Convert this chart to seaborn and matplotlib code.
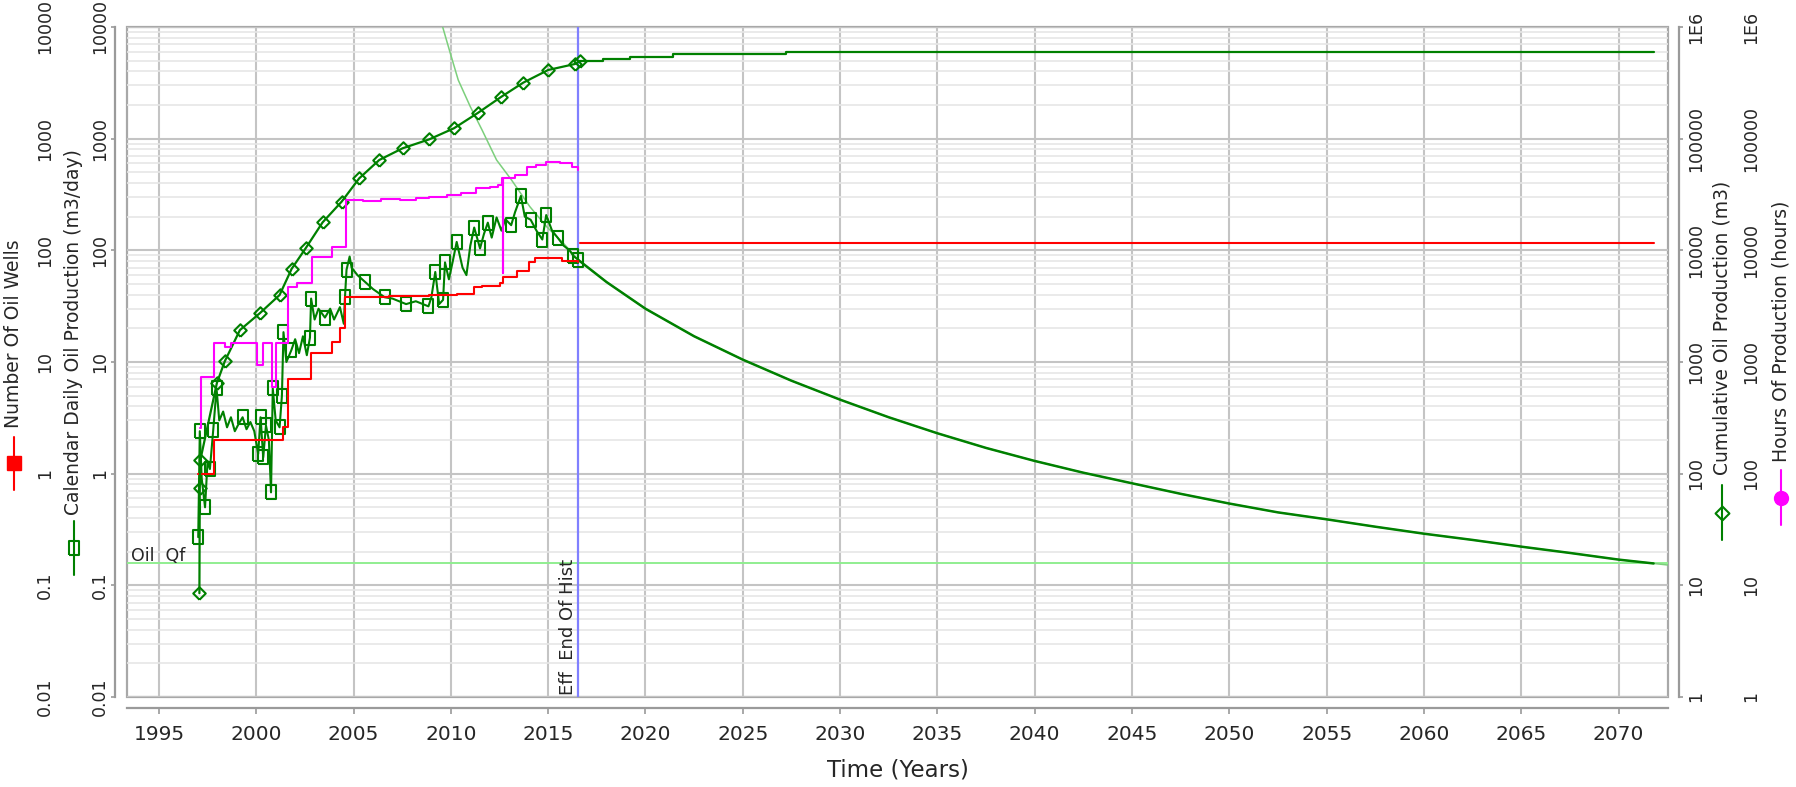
import matplotlib
matplotlib.use('Agg')
import matplotlib.pyplot as plt
from matplotlib.lines import Line2D
from matplotlib.patches import Rectangle
import matplotlib.ticker as mticker
import seaborn as sns

# ---- data ----
# calendar daily oil production, history (m3/day)
oil_year = [1997.02, 1997.10, 1997.20, 1997.37, 1997.50, 1997.62, 1997.79, 1997.96, 1998.10, 1998.30,
            1998.50, 1998.70, 1998.90, 1999.10, 1999.30, 1999.50, 1999.70, 1999.90, 2000.10, 2000.22,
            2000.36, 2000.50, 2000.65, 2000.76, 2000.85, 2001.00, 2001.20, 2001.32, 2001.40, 2001.55,
            2001.80, 2002.00, 2002.20, 2002.40, 2002.60, 2002.76, 2002.82, 2003.00, 2003.20, 2003.53,
            2003.80, 2004.00, 2004.30, 2004.50, 2004.56, 2004.64, 2004.80, 2004.90, 2005.20, 2005.60,
            2006.00, 2006.60, 2007.00, 2007.70, 2008.20, 2008.85, 2009.00, 2009.20, 2009.40, 2009.60,
            2009.70, 2009.90, 2010.10, 2010.30, 2010.60, 2010.80, 2011.00, 2011.20, 2011.50, 2011.70,
            2011.90, 2012.10, 2012.35, 2012.60, 2012.80, 2013.10, 2013.30, 2013.60, 2013.80, 2014.10,
            2014.40, 2014.70, 2014.90, 2015.20, 2015.50, 2015.80, 2016.10, 2016.30, 2016.55]
oil_rate = [0.27, 2.4, 0.9, 0.5, 1.3, 1.1, 2.45, 5.8, 3.0, 3.6,
            2.6, 3.2, 2.4, 2.8, 3.2, 2.5, 2.9, 2.4, 1.5, 3.2,
            1.4, 2.7, 2.0, 0.68, 5.8, 3.0, 2.6, 5.0, 18.5, 10.0,
            12.7, 16, 12, 17, 11.5, 16.5, 37, 24, 30, 25,
            30, 24, 31, 22, 38, 67, 88, 70, 60, 52,
            45, 38, 37, 33, 35, 31.5, 38, 64, 33, 36,
            78, 55, 80, 119, 70, 60, 110, 160, 104, 140,
            177, 130, 197, 150, 190, 168, 220, 307, 200, 188,
            150, 125, 207, 150, 129, 110, 100, 89, 82]
oil_square_year = [1997.02, 1997.10, 1997.37, 1997.62, 1997.79, 1997.96, 1999.30, 2000.10, 2000.22,
                   2000.36, 2000.50, 2000.76, 2000.85, 2001.20, 2001.32, 2001.40, 2001.80, 2002.76,
                   2002.82, 2003.53, 2004.56, 2004.64, 2005.60, 2006.60, 2007.70, 2008.85, 2009.20,
                   2009.60, 2009.70, 2010.30, 2011.20, 2011.50, 2011.90, 2013.10, 2013.60, 2014.10,
                   2014.70, 2014.90, 2015.50, 2016.30, 2016.55]

# fitted decline curve (thin light green) - forecast follows it after end of history
decline_year = [2009.58, 2010.00, 2010.38, 2011.00, 2011.60, 2012.35, 2013.12, 2014.06, 2014.92, 2015.78,
                2016.55, 2018.0, 2020.0, 2022.5, 2025.0, 2027.5, 2030.0, 2032.5, 2035.0, 2037.5,
                2040.0, 2042.5, 2045.0, 2047.5, 2050.0, 2052.5, 2055.0, 2057.5, 2060.0, 2062.5,
                2065.0, 2067.5, 2070.0, 2071.8, 2072.54]
decline_rate = [10000, 5600, 3350, 1934, 1200, 644, 426, 246, 163, 116,
                82, 52, 30, 17, 10.5, 6.8, 4.6, 3.2, 2.3, 1.7,
                1.3, 1.02, 0.82, 0.66, 0.54, 0.45, 0.39, 0.335, 0.29, 0.255,
                0.222, 0.195, 0.17, 0.157, 0.152]
oil_qf = 0.157
end_of_hist = 2016.55
forecast_end = 2071.8

# number of oil wells
wells_year = [1997.00, 1997.85, 2001.35, 2001.62, 2002.80, 2003.90, 2004.30, 2004.55, 2006.80, 2008.90,
              2009.90, 2010.30, 2011.20, 2011.60, 2012.50, 2012.70, 2013.40, 2014.00, 2014.30, 2015.70,
              2016.55]
wells_count = [1, 2, 2.6, 7, 12, 15, 20, 38.5, 39, 39.5,
               40, 41, 47, 48, 51, 58, 65, 79, 85, 80,
               78]
wells_fcst_year = [2016.62, forecast_end]
wells_fcst_count = [115.6, 115.6]

# cumulative oil production (m3)
cum_year = [1997.08, 1997.10, 1997.13, 1997.98, 1998.39, 1999.16, 2000.19, 2001.20, 2001.82, 2002.55,
            2003.41, 2004.39, 2005.29, 2006.32, 2007.52, 2008.89, 2010.16, 2011.41, 2012.60, 2013.72,
            2015.00, 2016.38, 2016.62]
cum_vol = [8.5, 74, 133, 650, 1020, 1930, 2740, 3980, 6830, 10500,
           17800, 27300, 44100, 64400, 82000, 98600, 123900, 171000, 237600, 317400,
           412100, 466500, 496000]
cum_fcst_year = [2016.62, 2017.30, 2017.80, 2019.20, 2021.40, 2027.20, forecast_end]
cum_fcst_vol = [496000, 499000, 513500, 542000, 573000, 593000, 593000]

# hours of production
hours_year = [1997.12, 1997.14, 1997.85, 1998.40, 1998.70, 2000.05, 2000.35, 2000.80, 2001.00, 2001.62,
              2002.10, 2002.85, 2003.90, 2004.62, 2005.50, 2006.40, 2007.40, 2008.20, 2008.90, 2009.80,
              2010.50, 2011.30, 2012.00, 2012.40, 2012.62, 2012.66, 2012.68, 2013.30, 2013.90, 2014.40,
              2014.90, 2015.60, 2016.20, 2016.55]
hours_val = [257, 740, 1480, 1350, 1480, 940, 1480, 600, 1480, 4730,
             5100, 8770, 10800, 28200, 27600, 28600, 28500, 29500, 30200, 31000,
             32400, 35900, 37000, 38600, 44500, 6270, 44500, 47500, 56100, 58000,
             62200, 60000, 56000, 52500]

x_ticks = list(range(1995, 2071, 5))
left_ticks = [0.01, 0.1, 1, 10, 100, 1000, 10000]
left_labels = ['0.01', '0.1', '1', '10', '100', '1000', '10000']
right_ticks = [1, 10, 100, 1000, 10000, 100000, 1000000]
right_labels = ['1', '10', '100', '1000', '10000', '100000', '1E6']

# ---- styling ----
sns.set_style('white')
plt.rcParams['font.family'] = ['DejaVu Sans']

GREEN = '#008000'
LIGHT = '#7ccf7c'
RED = '#ff0000'
MAGENTA = '#ff00ff'
GRAY = '#9a9a9a'

W, H = 1796, 787
fig = plt.figure(figsize=(W / 100, H / 100), dpi=100)


def fx(px):
    return px / W


def fy(py):
    return 1 - py / H


ax = fig.add_axes([fx(127), fy(697), fx(1668) - fx(127), fy(27) - fy(697)])
ax_w = ax.twinx()
ax_c = ax.twinx()
ax_h = ax.twinx()

ax.set_xlim(1993.36, 2072.54)
for a, lims in ((ax, (0.01, 1e4)), (ax_w, (0.01, 1e4)), (ax_c, (1, 1e6)), (ax_h, (1, 1e6))):
    a.set_yscale('log')
    a.set_ylim(*lims)
    for s in a.spines.values():
        s.set_visible(False)

# rect marker shapes
sq_marker = [(-0.35, -0.5), (0.35, -0.5), (0.35, 0.5), (-0.35, 0.5), (-0.35, -0.5)]
dm_marker = [(0, -0.5), (0.5, 0), (0, 0.5), (-0.5, 0), (0, -0.5)]

# grid + frame
ax.set_axisbelow(True)
ax.set_xticks(x_ticks)
ax.yaxis.set_major_locator(mticker.FixedLocator(left_ticks))
ax.yaxis.set_minor_locator(mticker.LogLocator(base=10, subs=range(2, 10), numticks=20))
ax.yaxis.set_minor_formatter(mticker.NullFormatter())
ax.grid(which='major', axis='both', color='#c4c4c4', lw=1.5)
ax.grid(which='minor', axis='y', color='#e6e6e6', lw=1.2)
ax.add_patch(Rectangle((0, 0), 1, 1, transform=ax.transAxes, fill=False, ec='#a8a8a8', lw=1.6,
                       clip_on=False, zorder=0.5))

# oil rate lines
ax.axhline(oil_qf, color='#90ee90', lw=1.4, zorder=1.5)
sns.lineplot(x=decline_year, y=decline_rate, ax=ax, color=LIGHT, lw=1.1, sort=False, estimator=None,
             zorder=2)
fc_year = [y for y in decline_year if end_of_hist <= y <= forecast_end]
fc_rate = [r for y, r in zip(decline_year, decline_rate) if end_of_hist <= y <= forecast_end]
sns.lineplot(x=fc_year, y=fc_rate, ax=ax, color=GREEN, lw=1.8, sort=False, estimator=None, zorder=3)
sq_idx = [i for i, y in enumerate(oil_year) if y in oil_square_year]
sns.lineplot(x=oil_year, y=oil_rate, ax=ax, color=GREEN, lw=1.5, sort=False, estimator=None,
             marker=sq_marker, markevery=sq_idx, markersize=9.5, markerfacecolor='none',
             markeredgecolor=GREEN, markeredgewidth=1.5, zorder=3)
ax.axvline(end_of_hist, color='#8080ff', lw=1.6, zorder=2.5)

# wells
sns.lineplot(x=wells_year, y=wells_count, ax=ax_w, color=RED, lw=1.5, drawstyle='steps-post',
             sort=False, estimator=None)
sns.lineplot(x=wells_fcst_year, y=wells_fcst_count, ax=ax_w, color=RED, lw=1.5, sort=False,
             estimator=None)

# hours
sns.lineplot(x=hours_year, y=hours_val, ax=ax_h, color=MAGENTA, lw=1.5, drawstyle='steps-post',
             sort=False, estimator=None)

# cumulative
sns.lineplot(x=cum_year, y=cum_vol, ax=ax_c, color=GREEN, lw=1.6, sort=False, estimator=None,
             marker=dm_marker, markersize=9, markerfacecolor='none', markeredgecolor=GREEN,
             markeredgewidth=1.5)
sns.lineplot(x=cum_fcst_year, y=cum_fcst_vol, ax=ax_c, color=GREEN, lw=1.6, drawstyle='steps-post',
             sort=False, estimator=None)

for a in (ax, ax_w, ax_c, ax_h):
    a.set_xlabel('')
    a.set_ylabel('')

# x axis below the frame
ax.spines['bottom'].set_visible(True)
ax.spines['bottom'].set_position(('outward', 8))
ax.spines['bottom'].set_color(GRAY)
ax.spines['bottom'].set_linewidth(1.6)
ax.tick_params(axis='x', which='major', length=4, width=1.2, color=GRAY, pad=8, labelsize=14.5,
               bottom=True)

# inner left axis: daily oil
ax.spines['left'].set_visible(True)
ax.spines['left'].set_position(('outward', 8.6))
ax.spines['left'].set_color(GRAY)
ax.spines['left'].set_linewidth(1.6)
ax.set_yticks(left_ticks)
ax.set_yticklabels(left_labels, rotation=90, va='center', ha='right')
ax.tick_params(axis='y', which='major', length=3, width=1.2, color=GRAY, pad=1.6, labelsize=12.5,
               left=True)
ax.tick_params(axis='y', which='minor', length=0)

# outer left axis: wells
ax_w.yaxis.tick_left()
ax_w.spines['left'].set_position(('outward', 49.7))
ax_w.yaxis.set_major_locator(mticker.FixedLocator(left_ticks))
ax_w.yaxis.set_minor_locator(mticker.NullLocator())
ax_w.set_yticklabels(left_labels, rotation=90, va='center', ha='right')
ax_w.tick_params(axis='y', length=0, pad=3, labelsize=12.5, labelleft=True, labelright=False)

# inner right axis: cumulative
ax_c.spines['right'].set_visible(True)
ax_c.spines['right'].set_position(('outward', 7.9))
ax_c.spines['right'].set_color(GRAY)
ax_c.spines['right'].set_linewidth(1.6)
ax_c.yaxis.set_major_locator(mticker.FixedLocator(right_ticks))
ax_c.yaxis.set_minor_locator(mticker.NullLocator())
ax_c.set_yticklabels(right_labels, rotation=90, va='center', ha='left')
ax_c.tick_params(axis='y', length=3, width=1.2, color=GRAY, pad=2.7, labelsize=12.5)

# outer right axis: hours
ax_h.spines['right'].set_position(('outward', 50.4))
ax_h.yaxis.set_major_locator(mticker.FixedLocator(right_ticks))
ax_h.yaxis.set_minor_locator(mticker.NullLocator())
ax_h.set_yticklabels(right_labels, rotation=90, va='center', ha='left')
ax_h.tick_params(axis='y', length=0, pad=3.2, labelsize=12.5)

# annotations inside the plot
ax.text(1993.55, 0.166, 'Oil  Qf', fontsize=12.5, va='baseline', ha='left')
ax.text(end_of_hist - 0.05, 0.0105, 'Eff  End Of Hist', fontsize=13, rotation=90, va='bottom',
        ha='right')

# axis titles with their legend glyphs
fig.text(fx(898), fy(770), 'Time (Years)', fontsize=16.5, ha='center', va='center')

axis_titles = [
    ('Number Of Oil Wells', 14, 428, (437, 463, 490), dict(marker='s', markersize=9.5, color=RED,
                                                           markerfacecolor=RED, markeredgecolor=RED)),
    ('Calendar Daily Oil Production (m3/day)', 74, 515, (521, 548, 575),
     dict(marker=sq_marker, markersize=10, color=GREEN, markerfacecolor='none', markeredgecolor=GREEN,
          markeredgewidth=1.5)),
    ('Cumulative Oil Production (m3)', 1722, 475, (485, 513, 540),
     dict(marker=dm_marker, markersize=10, color=GREEN, markerfacecolor='none', markeredgecolor=GREEN,
          markeredgewidth=1.5)),
    ('Hours Of Production (hours)', 1781, 462, (470, 498, 525),
     dict(marker='o', markersize=10, color=MAGENTA, markerfacecolor=MAGENTA, markeredgecolor=MAGENTA)),
]
for label, xp, ybottom, glyph_y, style in axis_titles:
    fig.text(fx(xp), fy(ybottom), label, fontsize=13.5, rotation=90, ha='center', va='bottom')
    fig.add_artist(Line2D([fx(xp)] * 3, [fy(g) for g in glyph_y], transform=fig.transFigure,
                          lw=1.5, markevery=[1], **style))

fig.savefig('out.png', dpi=100)
